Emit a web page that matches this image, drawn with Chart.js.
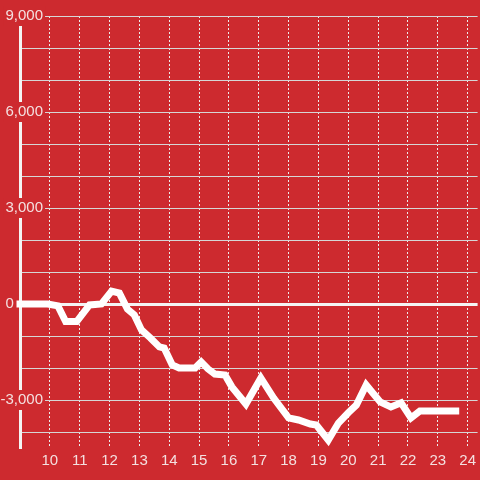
<!DOCTYPE html>
<html><head><meta charset="utf-8">
<script src="https://cdn.jsdelivr.net/npm/chart.js@4"></script>
<style>html,body{margin:0;padding:0;background:#cd2a2f;overflow:hidden;}</style>
</head><body>
<canvas id="c" width="480" height="480"></canvas>
<script>
const hours = [9.0, 9.93, 10.27, 10.53, 10.9, 11.33, 11.73, 12.07, 12.33, 12.6, 12.83, 13.07, 13.37, 13.67, 13.83, 14.1, 14.33, 14.87, 15.07, 15.3, 15.53, 15.87, 16.1, 16.57, 17.07, 17.5, 18.0, 18.33, 18.73, 18.93, 19.33, 19.67, 20.0, 20.27, 20.6, 21.07, 21.43, 21.77, 22.1, 22.4, 23.6];
const values = [0, 0, -60, -550, -550, -30, 0, 400, 340, -160, -340, -810, -1060, -1340, -1375, -1900, -2000, -2000, -1810, -2030, -2190, -2220, -2590, -3125, -2310, -2940, -3560, -3625, -3750, -3780, -4250, -3720, -3400, -3160, -2530, -3060, -3220, -3090, -3560, -3340, -3340];
const xTicks = [10, 11, 12, 13, 14, 15, 16, 17, 18, 19, 20, 21, 22, 23, 24];
const yTicks = [-4000, -3000, -2000, -1000, 0, 1000, 2000, 3000, 4000, 5000, 6000, 7000, 8000, 9000];
const yLabelled = [-3000, 0, 3000, 6000, 9000];

const RED = '#cd2a2f';
const TXT = '#f4e0e0';
const FONT = {family: 'Liberation Sans', size: 15};

new Chart(document.getElementById('c'), {
  type: 'line',
  data: {datasets: [{
    data: hours.map((h, i) => ({x: h, y: values[i]})),
    borderColor: '#ffffff', borderWidth: 7, pointRadius: 0, tension: 0,
    borderCapStyle: 'square', borderJoinStyle: 'miter', clip: false, fill: false
  }]},
  options: {
    responsive: false, animation: false, events: [],
    layout: {padding: {left: 20, top: 16, right: 0, bottom: 0}},
    plugins: {legend: {display: false}, tooltip: {enabled: false}},
    scales: {
      x: {
        type: 'linear', min: 9, max: 24.333,
        afterBuildTicks: s => { s.ticks = xTicks.map(v => ({value: v})); },
        afterFit: s => { s.height = 32; },
        border: {display: false, dash: [2, 2]},
        grid: {color: '#ececec', lineWidth: 1, drawTicks: false},
        ticks: {color: TXT, font: FONT, padding: 4, maxRotation: 0, callback: v => String(v)}
      },
      y: {
        type: 'linear', min: -4500, max: 9000,
        afterBuildTicks: s => { s.ticks = yTicks.map(v => ({value: v})); },
        afterFit: s => { s.width = 0; },
        border: {display: true, color: '#f4f4f4', width: 3},
        grid: {
          drawTicks: false,
          color: c => (c.tick && c.tick.value === 0) ? '#f4f4f4' : '#d6d6d6',
          lineWidth: c => (c.tick && c.tick.value === 0) ? 3 : 1
        },
        ticks: {
          mirror: true, crossAlign: 'far',
          color: TXT, font: FONT, padding: -19.5,
          callback: v => yLabelled.includes(v) ? (v === 0 ? '0       ' : v.toLocaleString('en-US')) : '',
          showLabelBackdrop: true,
          backdropColor: c => (c.tick && yLabelled.includes(c.tick.value) && c.tick.value !== 0) ? RED : 'rgba(0,0,0,0)',
          backdropPadding: {x: 2, y: 1}
        }
      }
    }
  }
});
</script>
</body></html>
